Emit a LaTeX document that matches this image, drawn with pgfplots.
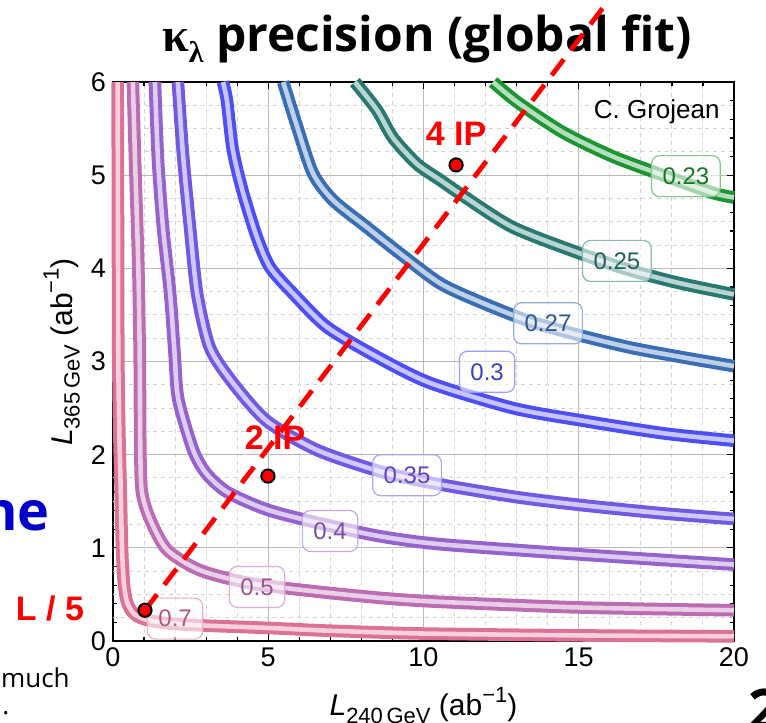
\documentclass[border=0pt]{standalone}
\usepackage{fontspec}
\setmainfont{Liberation Sans}
\newfontfamily\titlefont{Open Sans}
\newfontfamily\grk{Liberation Serif}
\usepackage{pgfplots}
\pgfplotsset{compat=1.18}

\definecolor{c70}{RGB}{220,112,150}
\definecolor{c50}{RGB}{188,108,178}
\definecolor{c40}{RGB}{150,98,205}
\definecolor{c35}{RGB}{115,88,228}
\definecolor{c30}{RGB}{78,78,245}
\definecolor{c27}{RGB}{58,110,180}
\definecolor{c25}{RGB}{40,122,112}
\definecolor{c23}{RGB}{28,150,48}
\definecolor{slideblue}{RGB}{0,0,200}

\pgfplotsset{
  band/.style={draw=#1, double=#1!32!white, double distance=2.3pt,
    line width=2pt, smooth, tension=0.45, no markers, line join=round},
}
\tikzset{
  lab/.style={draw=#1!55!white, fill=white, fill opacity=0.6, text opacity=1,
    text=#1!80!black, rounded corners=4pt, line width=0.6pt,
    inner xsep=5.5pt, inner ysep=6pt, font=\fontsize{12}{12}\selectfont},
  ip/.style={text=red, font=\fontsize{17}{17}\selectfont\bfseries, inner sep=0pt},
}

\begin{document}
\begin{tikzpicture}
\useasboundingbox (-56.5pt,-41pt) rectangle (326.5pt,320.5pt);
\fill[white] (-56.5pt,-41pt) rectangle (326.5pt,320.5pt);

% bits of the slide around the plot
\node[anchor=base east, inner sep=0pt, text=slideblue,
  font=\titlefont\fontsize{27}{27}\selectfont\bfseries] at (-31.5pt,55.5pt) {line};
\node[anchor=base east, inner sep=0pt, font=\titlefont\fontsize{13}{13}\selectfont] at (-21.5pt,-23pt) {much};
\node[anchor=base west, inner sep=0pt, font=\titlefont\fontsize{13}{13}\selectfont] at (-55.5pt,-36.5pt) {.};
\node[anchor=north west, inner sep=0pt, font=\titlefont\fontsize{28}{28}\selectfont\bfseries] at (317.5pt,-24pt) {2};

% title
\node[anchor=base, inner sep=0pt, font=\titlefont\fontsize{24}{24}\selectfont\bfseries]
  at (157pt,294.5pt) {{\grk κ\raisebox{-0.22em}{\fontsize{15}{15}\selectfont λ}} precision (global fit)};

\begin{axis}[
  at={(0,0)}, anchor=south west,
  scale only axis, width=310.5pt, height=279.5pt,
  xmin=0, xmax=20, ymin=0, ymax=6,
  xtick={0,5,...,20}, ytick={0,1,...,6},
  minor x tick num=4, minor y tick num=4,
  xmajorgrids, ymajorgrids, xminorgrids,
  major grid style={gray!55, line width=0.6pt},
  minor grid style={gray!35, line width=0.5pt, dash pattern=on 2pt off 2pt},
  extra y ticks={0.25,0.5,0.75,1.25,1.5,1.75,2.25,2.5,2.75,3.25,3.5,3.75,4.25,4.5,4.75,5.25,5.5,5.75},
  extra y tick labels={},
  extra y tick style={grid=major, major tick length=0pt,
    major grid style={gray!35, line width=0.5pt, dash pattern=on 2pt off 2pt}},
  major tick length=3.5pt, minor tick length=2.2pt,
  tick style={black, line width=0.6pt},
  axis line style={black, line width=0.8pt},
  tick label style={font=\fontsize{13.5}{14}\selectfont},
  /pgf/number format/assume math mode=true,
  xlabel={\textit{L}\raisebox{-0.25em}{\fontsize{11}{11}\selectfont 240\,GeV} (ab\raisebox{0.45em}{\fontsize{11}{11}\selectfont −1})},
  ylabel={\textit{L}\raisebox{-0.25em}{\fontsize{11}{11}\selectfont 365\,GeV} (ab\raisebox{0.45em}{\fontsize{11}{11}\selectfont −1})},
  xlabel style={at={(axis description cs:0.5,-0.134)}, anchor=base, font=\fontsize{15}{15}\selectfont},
  ylabel style={at={(axis description cs:-0.066,0.517)}, anchor=base, font=\fontsize{15}{15}\selectfont},
  clip=false,
]

% contour bands, one per precision level
\addplot[band=c70] coordinates {(0.15,6) (0.16,4.5) (0.17,3.1) (0.2,2.3) (0.25,1.6) (0.29,1.0) (0.35,0.62) (0.45,0.42) (0.65,0.3) (1.0,0.235) (1.74,0.19) (3,0.165) (5,0.14) (7,0.11) (10,0.08) (15,0.06) (20,0.05)};
\addplot[band=c50] coordinates {(0.64,6) (0.71,5.16) (0.81,4.09) (0.86,3.09) (0.88,2.05) (0.93,1.6) (1.19,1.31) (1.74,0.98) (2.8,0.76) (4.41,0.62) (6.57,0.53) (8.7,0.46) (10.53,0.42) (15,0.36) (20,0.33)};
\addplot[band=c40] coordinates {(1.35,6) (1.45,5.16) (1.61,4.44) (1.84,3.73) (1.98,3.1) (2.1,2.6) (2.58,2.05) (3.0,1.8) (3.67,1.6) (4.96,1.41) (6.57,1.27) (8.5,1.13) (10.5,1.04) (15,0.93) (20,0.82)};
\addplot[band=c35] coordinates {(2.09,6) (2.25,5.24) (2.48,4.44) (2.71,3.73) (3.12,3.15) (3.86,2.77) (4.96,2.36) (6.57,2.05) (8.5,1.83) (10.21,1.7) (12.88,1.55) (15.04,1.46) (17.71,1.37) (20,1.31)};
\addplot[band=c30] coordinates {(3.54,6) (3.67,5.8) (3.86,5.27) (4.19,4.81) (4.64,4.33) (5.06,4.01) (5.8,3.73) (6.89,3.37) (8.5,3.05) (10.21,2.77) (12.88,2.5) (15.04,2.37) (17.71,2.23) (20,2.15)};
\addplot[band=c27] coordinates {(5.48,6) (5.93,5.52) (6.44,5.02) (7.09,4.73) (8.18,4.44) (9.24,4.16) (10.53,3.84) (11.82,3.64) (13.43,3.43) (15.04,3.28) (16.65,3.15) (18.26,3.05) (20,2.95)};
\addplot[band=c25] coordinates {(7.79,6) (8.5,5.7) (9.02,5.4) (9.79,5.12) (10.53,4.95) (11.27,4.78) (12.88,4.44) (15.04,4.16) (16.65,3.98) (18.26,3.84) (20,3.72)};
\addplot[band=c23] coordinates {(12.24,6) (13.04,5.78) (14.49,5.46) (16.1,5.2) (17.71,5.0) (19.32,4.81) (20,4.76)};

% level labels
\node[lab=c23] at (axis cs:18.45,4.99) {0.23};
\node[lab=c25] at (axis cs:16.23,4.08) {0.25};
\node[lab=c27] at (axis cs:14.01,3.41) {0.27};
\node[lab=c30] at (axis cs:12.05,2.89) {0.3};
\node[lab=c35] at (axis cs:9.47,1.78) {0.35};
\node[lab=c40] at (axis cs:6.99,1.18) {0.4};
\node[lab=c50] at (axis cs:4.64,0.58) {0.5};
\node[lab=c70] at (axis cs:2.0,0.24) {0.7};

% luminosity scaling line and the three running scenarios
\addplot[red, line width=2.4pt, dash pattern=on 10pt off 6pt] coordinates {(1.03,0.33) (16.7,7.2)};
\addplot[only marks, mark=*, mark size=3.3pt, mark options={fill=red, draw=black, line width=1pt}]
  coordinates {(1.03,0.33) (4.99,1.77) (11.05,5.11)};

\node[ip, anchor=base] at (axis cs:11.05,5.32) {4 IP};
\node[ip, anchor=base] at (axis cs:5.22,2.06) {2 IP};
\node[ip, anchor=base] at (axis cs:-2.03,0.22) {L / 5};
\node[anchor=base east, inner sep=0pt, font=\fontsize{13}{13}\selectfont] at (axis cs:19.55,5.61) {C. Grojean};

\end{axis}
\end{tikzpicture}
\end{document}
